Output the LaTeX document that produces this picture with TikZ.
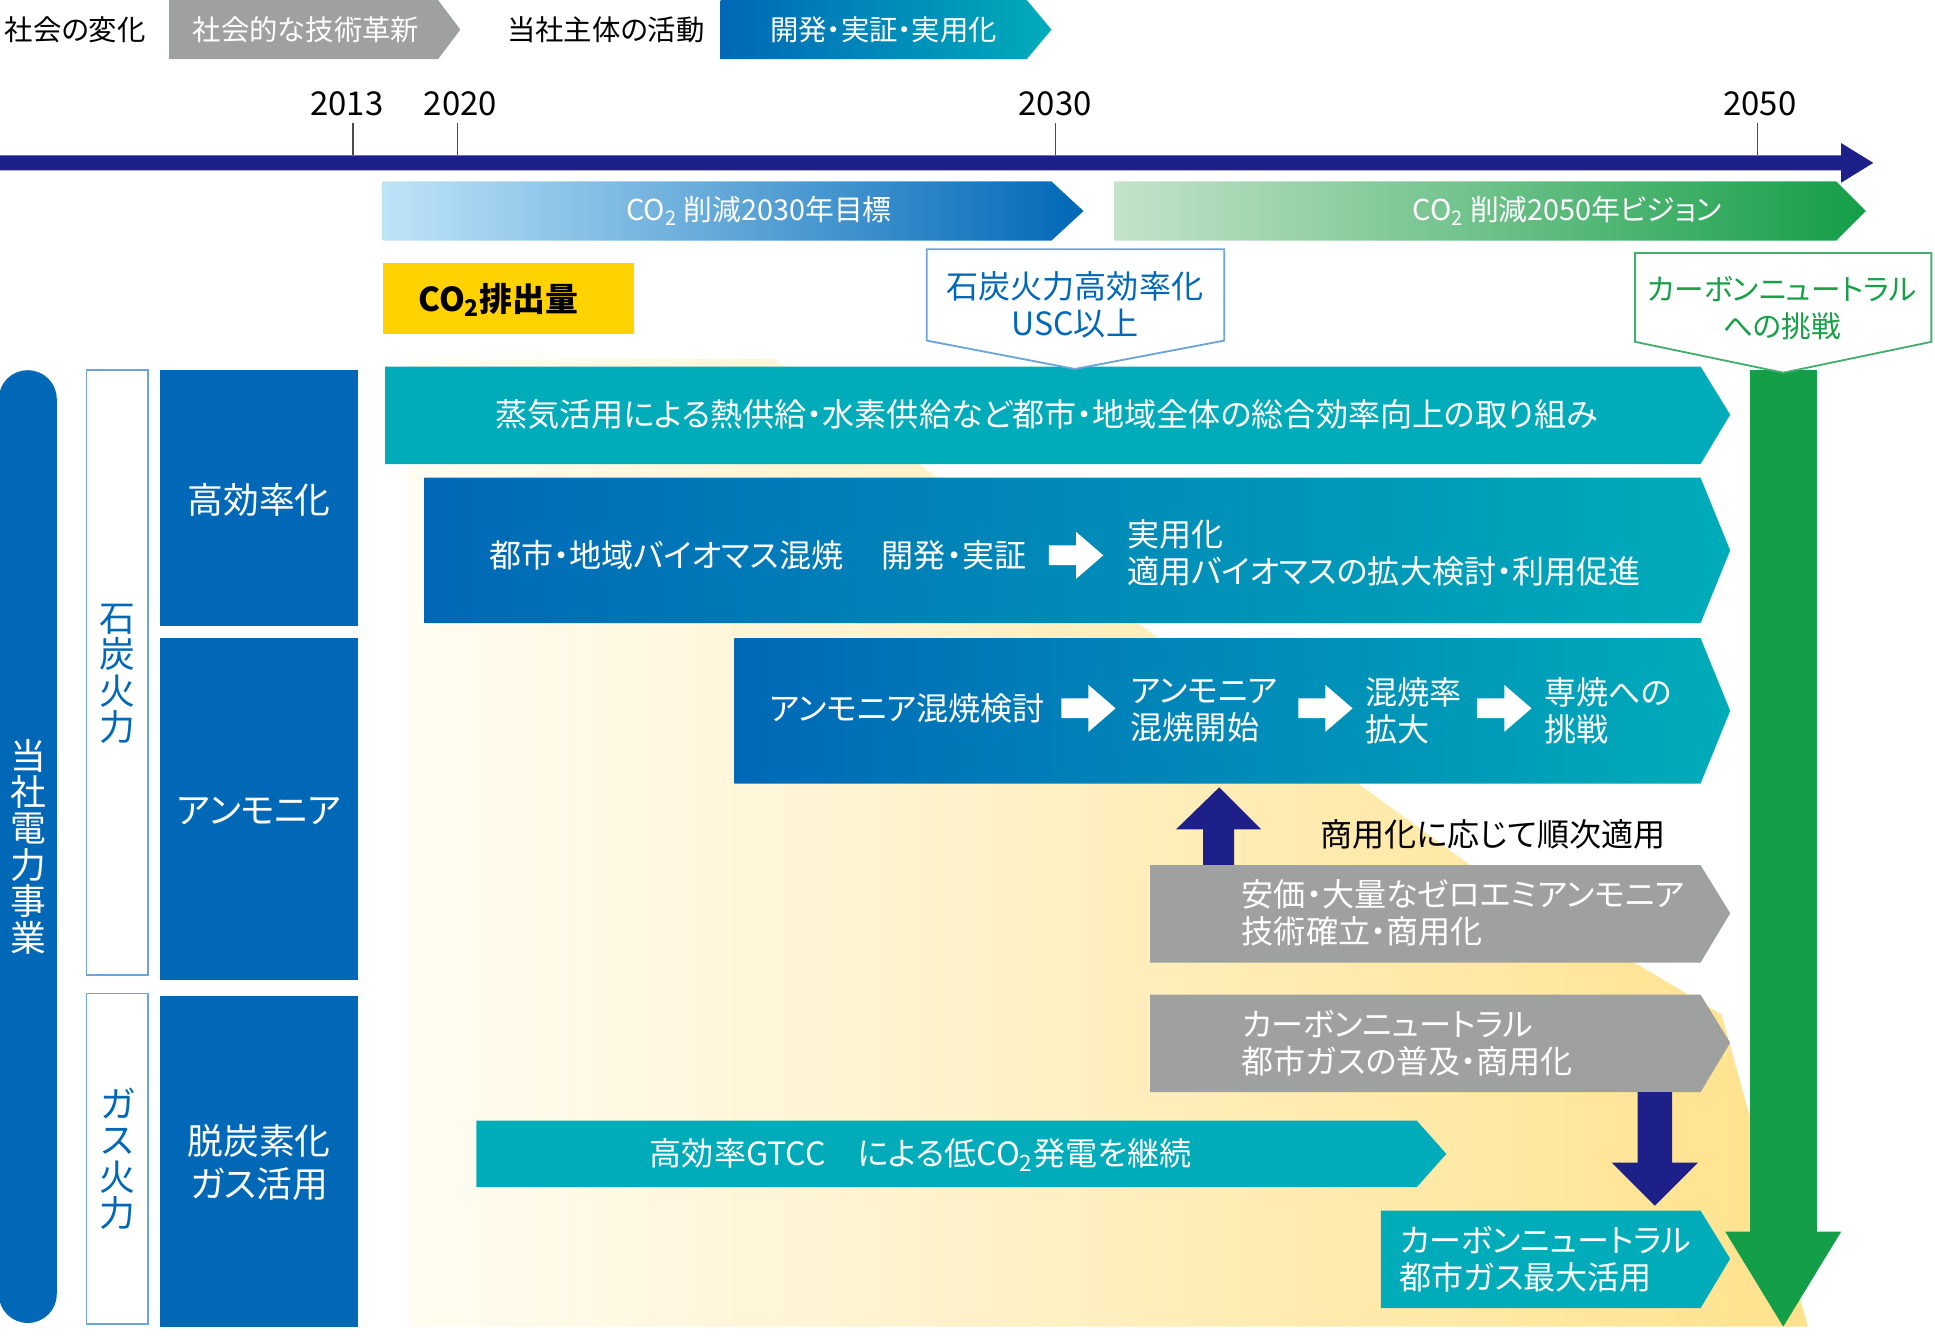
\documentclass[tikz,border=0pt]{standalone}
\usepackage{fontspec}
\setmainfont{Noto Sans CJK JP}[RawFeature=+palt]
\definecolor{bluem}{RGB}{0,104,183}
\definecolor{tealc}{RGB}{0,172,185}
\definecolor{grayc}{RGB}{159,160,160}
\definecolor{navy}{RGB}{29,32,136}
\definecolor{greenc}{RGB}{20,158,72}
\definecolor{lgreen}{RGB}{196,227,201}
\definecolor{lblue}{RGB}{190,228,248}
\definecolor{yelbox}{RGB}{255,210,0}
\definecolor{lbline}{RGB}{110,165,215}
\definecolor{ylight}{RGB}{255,252,242}
\definecolor{ydark}{RGB}{255,226,140}
\definecolor{gtext}{RGB}{24,160,72}
\newcommand\dt{・}
\newcommand\cotwo{CO\textsubscript{2}}
\tikzset{
  jt/.style={inner sep=0pt, font=\fontsize{15.6}{18}\selectfont},
  jtw/.style={jt, text=white},
  lg/.style={inner sep=0pt, font=\fontsize{13.8}{16}\selectfont},
  yr/.style={inner sep=0pt, font=\fontsize{16}{18}\selectfont},
  big/.style={inner sep=0pt, text=white, font=\fontsize{17.4}{21}\selectfont, align=center},
  vert/.style={inner sep=0pt, font=\fontsize{17.4}{17.7}\selectfont, align=center},
  tick/.style={line width=0.6pt, black!70},
}
\newcommand\warr[2]{\fill[white] (#1,#2) ++(0,-8) -- ++(22,0) -- ++(0,-11) -- ++(22,19) -- ++(-22,19) -- ++(0,-11) -- ++(-22,0) -- cycle;}
\begin{document}
\begin{tikzpicture}[x=0.6pt,y=-0.6pt]
\useasboundingbox (0,0) rectangle (1568,1083);
% yellow background wedge
\shade[left color=ylight, right color=ydark] (330,291) -- (628,291) -- (1190,700) -- (1395,822) -- (1465,1075) -- (330,1075) -- cycle;

% legend
\fill[grayc] (137,0) -- (355,0) -- (373,24) -- (355,48) -- (137,48) -- cycle;
\shade[left color=bluem, right color=tealc] (584,0) -- (832,0) -- (852,24) -- (832,48) -- (584,48) -- cycle;
\node[lg] (lgA) at (61,24) {社会の変化};
\node[lg, text=white] (lgB) at (248,24) {社会的な技術革新};
\node[lg] (lgC) at (491,24) {当社主体の活動};
\node[lg, text=white] (lgD) at (716,24) {開発\dt 実証\dt 実用化};

% timeline
\fill[navy] (0,126) -- (1492,126) -- (1492,116) -- (1518,132) -- (1492,148) -- (1492,138) -- (0,138) -- cycle;
\draw[tick] (286,100) -- (286,126);
\draw[tick] (371,100) -- (371,126);
\draw[tick] (855,100) -- (855,126);
\draw[tick] (1424,100) -- (1424,126);
\node[yr] (y13) at (281,84) {2013};
\node[yr] (y20) at (373,84) {2020};
\node[yr] (y30) at (855,84) {2030};
\node[yr] (y50) at (1426,84) {2050};

% targets
\shade[left color=lblue, right color=bluem] (310,147) -- (852,147) -- (878,171) -- (852,195) -- (310,195) -- cycle;
\node[jtw, font=\fontsize{14}{16}\selectfont] (t30) at (615,171) {\cotwo\ 削減2030年目標};
\shade[left color=lgreen, right color=greenc] (903,147) -- (1488,147) -- (1512,171) -- (1488,195) -- (903,195) -- cycle;
\node[jtw, font=\fontsize{14}{16}\selectfont] (t50) at (1270,171) {\cotwo\ 削減2050年ビジョン};

% CO2 emission box
\fill[yelbox] (310,213) rectangle (514,271);
\node[inner sep=0pt, font=\bfseries\fontsize{16}{18}\selectfont] (emi) at (404,243) {\cotwo 排出量};

% left column
\fill[bluem, rounded corners=14pt] (-1,300) rectangle (46,1072);
\node[vert, text=white] (biz) at (23,686) {当\\社\\電\\力\\事\\業};
\draw[lbline, line width=0.8pt, fill=white] (70,300) rectangle (120,790);
\draw[lbline, line width=0.8pt, fill=white] (70,805) rectangle (120,1073);
\node[vert, text=bluem] (coal) at (95,546) {石\\炭\\火\\力};
\node[vert, text=bluem] (gas) at (95,939) {ガ\\ス\\火\\力};
\fill[bluem] (130,300) rectangle (290,507);
\fill[bluem] (130,517) rectangle (290,794);
\fill[bluem] (130,807) rectangle (290,1075);
\node[big] (eff) at (210,405) {高効率化};
\node[big] (amm) at (210,657) {アンモニア};
\node[big] (dec) at (210,942) {脱炭素化\\ガス活用};

% green arrow
\fill[greenc] (1418,300) rectangle (1472,999);
\fill[greenc] (1398,998) -- (1492,998) -- (1445,1075) -- cycle;

% bar 1
\fill[tealc] (312,297) -- (1378,297) -- (1402,336) -- (1378,376) -- (312,376) -- cycle;
\node[jtw] (b1) at (848,336) {蒸気活用による熱供給\dt 水素供給など都市\dt 地域全体の総合効率向上の取り組み};

% callouts
\draw[lbline, line width=0.9pt, fill=white] (751,202) -- (992,202) -- (992,276) -- (871,299) -- (751,276) -- cycle;
\node[inner sep=0pt, text=bluem, align=center, font=\fontsize{15.6}{18}\selectfont] (usc) at (871,247) {石炭火力高効率化\\USC以上};
\draw[greenc!80, line width=0.9pt, fill=white] (1325,205) -- (1565,205) -- (1565,277) -- (1445,302) -- (1325,277) -- cycle;
\node[inner sep=0pt, text=gtext, align=center, font=\fontsize{14.4}{18}\selectfont] (cnc) at (1444,250) {カーボンニュートラル\\への挑戦};

% bar 2
\shade[left color=bluem, right color=tealc] (344,387) -- (1378,387) -- (1402,446) -- (1378,505) -- (344,505) -- cycle;
\node[jtw] (b2a) at (614,450) {都市\dt 地域バイオマス混焼\hspace{1.2em}開発\dt 実証};
\warr{850}{450}
\node[jtw, anchor=west, align=left] (b2b) at (913,448) {実用化\\適用バイオマスの拡大検討\dt 利用促進};

% bar 3
\shade[left color=bluem, right color=tealc] (595,517) -- (1378,517) -- (1402,576) -- (1378,635) -- (595,635) -- cycle;
\node[jtw] (b3a) at (735,574) {アンモニア混焼検討};
\warr{860}{574}
\node[jtw, anchor=west, align=left] (b3b) at (916,576) {アンモニア\\混焼開始};
\warr{1052}{574}
\node[jtw, anchor=west, align=left] (b3c) at (1106,576) {混焼率\\拡大};
\warr{1197}{574}
\node[jtw, anchor=west, align=left] (b3d) at (1251,576) {専焼への\\挑戦};

% up arrow
\fill[navy] (975,701) -- (975,672) -- (953,672) -- (988,638) -- (1022,672) -- (1000,672) -- (1000,701) -- cycle;
\node[jt] (seq) at (1210,676) {商用化に応じて順次適用};

% gray bars
\fill[grayc] (932,701) -- (1378,701) -- (1402,740) -- (1378,780) -- (932,780) -- cycle;
\node[jtw, anchor=west, align=left] (g1) at (1006,740) {安価\dt 大量なゼロエミアンモニア\\技術確立\dt 商用化};
\fill[grayc] (932,806) -- (1378,806) -- (1402,845) -- (1378,885) -- (932,885) -- cycle;
\node[jtw, anchor=west, align=left] (g2) at (1006,845) {カーボンニュートラル\\都市ガスの普及\dt 商用化};

% down arrow
\fill[navy] (1327,885) -- (1355,885) -- (1355,942) -- (1376,942) -- (1341,977) -- (1306,942) -- (1327,942) -- cycle;

% GTCC bar
\fill[tealc] (386,908) -- (1148,908) -- (1172,935) -- (1148,962) -- (386,962) -- cycle;
\node[jtw] (gt) at (746,936) {高効率GTCC\hspace{1em}による低\cotwo 発電を継続};

% final teal
\fill[tealc] (1119,981) -- (1378,981) -- (1402,1020) -- (1378,1060) -- (1119,1060) -- cycle;
\node[jtw, anchor=west, align=left] (fin) at (1134,1020) {カーボンニュートラル\\都市ガス最大活用};
\end{tikzpicture}
\end{document}
